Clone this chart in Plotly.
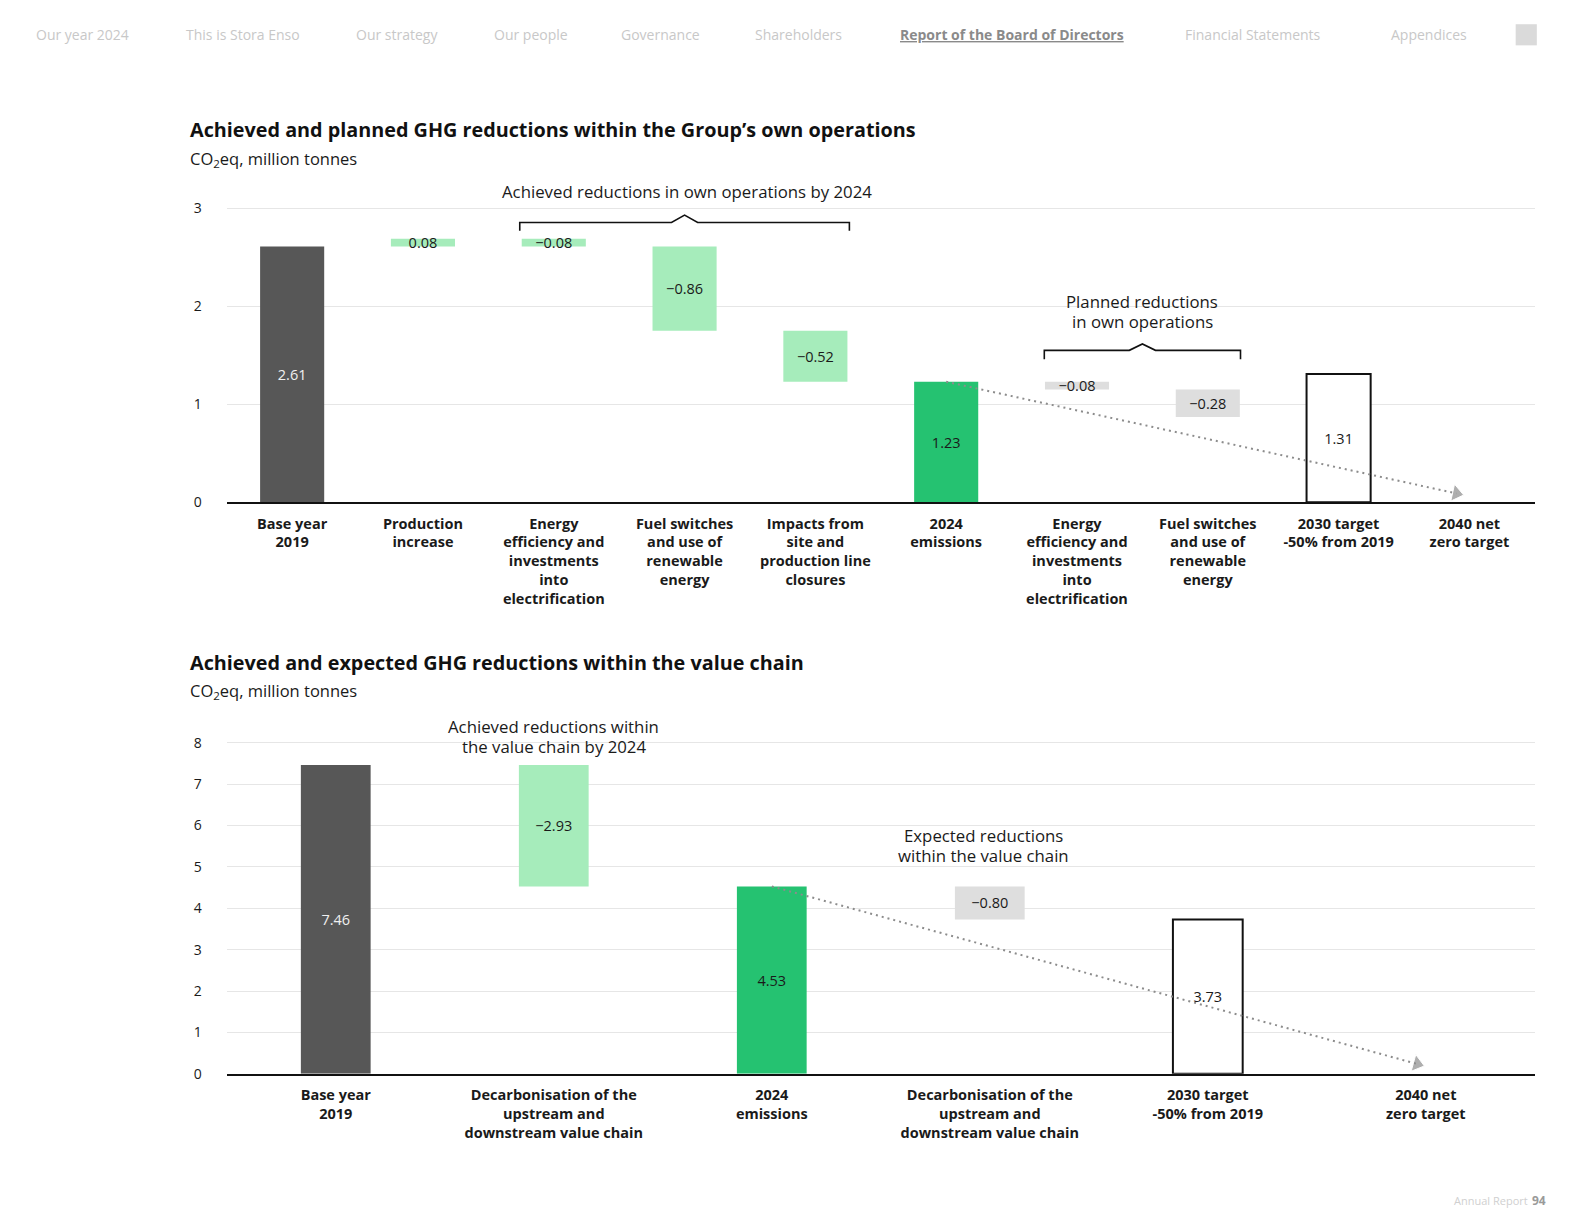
import plotly.graph_objects as go

# ---------------- data ----------------
top_categories = [
    "Base year<br>2019",
    "Production<br>increase",
    "Energy<br>efficiency and<br>investments<br>into<br>electrification",
    "Fuel switches<br>and use of<br>renewable<br>energy",
    "Impacts from<br>site and<br>production line<br>closures",
    "2024<br>emissions",
    "Energy<br>efficiency and<br>investments<br>into<br>electrification",
    "Fuel switches<br>and use of<br>renewable<br>energy",
    "2030 target<br>-50% from 2019",
    "2040 net<br>zero target",
]
top_values = [2.61, 0.08, -0.08, -0.86, -0.52, 1.23, -0.08, -0.28, 1.31, None]
top_kinds = ["base", "achieved", "achieved", "achieved", "achieved",
             "current", "planned", "planned", "target", "netzero"]

bottom_categories = [
    "Base year<br>2019",
    "Decarbonisation of the<br>upstream and<br>downstream value chain",
    "2024<br>emissions",
    "Decarbonisation of the<br>upstream and<br>downstream value chain",
    "2030 target<br>-50% from 2019",
    "2040 net<br>zero target",
]
bottom_values = [7.46, -2.93, 4.53, -0.80, 3.73, None]
bottom_kinds = ["base", "achieved", "current", "planned", "target", "netzero"]

top_yticks = [0, 1, 2, 3]
bottom_yticks = [0, 1, 2, 3, 4, 5, 6, 7, 8]

nav_items = ["Our year 2024", "This is Stora Enso", "Our strategy", "Our people",
             "Governance", "Shareholders", "Report of the Board of Directors",
             "Financial Statements", "Appendices"]

# ---------------- styles ----------------
OFF = 8                      # page body margin
W, H = 1580 - 2 * OFF, 1232 - 2 * OFF
SX, SY = 0.9923, 0.9863      # observed photo scaling
FONT = "Open Sans"
TXT = "#1a1a1a"
fill_by_kind = {"base": "#575757", "achieved": "#a6ecbb", "current": "#25c271",
                "planned": "#dedede", "target": "#ffffff", "netzero": "rgba(0,0,0,0)"}
label_col_by_kind = {"base": "#f0f0f0"}
TOP_PX_PER_UNIT = 97.33
BOT_PX_PER_UNIT = 41.125
TOP_YMAX = 3.3
BOT_YMAX = 8.7


def px_x(p):
    return (p / SX - OFF) / W


def px_y(p):
    return 1 - (p / SY - OFF) / H


def waterfall(values, kinds):
    bases, ys = [], []
    running = 0.0
    for v, k in zip(values, kinds):
        if v is None:
            bases.append(0)
            ys.append(None)
        elif k in ("base", "current", "target"):
            bases.append(0)
            ys.append(v)
            running = v
        else:
            bases.append(running)
            ys.append(v)
            running = running + v
    return bases, ys


fig = go.Figure()


def fmt(v):
    if v is None:
        return None
    s = f"{v:.2f}"
    return s.replace("-", "\u2212")


def add_chart(values, kinds, xa, ya, bar_w):
    bases, ys = waterfall(values, kinds)
    xs = list(range(len(values)))
    fig.add_trace(go.Bar(
        x=xs, y=ys, base=bases, width=bar_w,
        marker=dict(color=[fill_by_kind[k] for k in kinds],
                    line=dict(color=["#111111" if k == "target" else "rgba(0,0,0,0)" for k in kinds],
                              width=[2 if k == "target" else 0 for k in kinds])),
        text=[fmt(v) for v in values],
        textposition="inside", insidetextanchor="middle", constraintext="none", textangle=0,
        insidetextfont=dict(family=FONT, size=14.5, color=[label_col_by_kind.get(k, TXT) for k in kinds]),
        xaxis=xa, yaxis=ya, showlegend=False, hoverinfo="skip", cliponaxis=False,
    ))


add_chart(top_values, top_kinds, "x", "y", 0.49)
add_chart(bottom_values, bottom_kinds, "x2", "y2", 0.32)


# dotted trajectory arrows: from 2024 emissions to 2040 net zero
def add_arrow(values, kinds, xa, ya, dx, dy):
    i0 = kinds.index("current")
    i1 = kinds.index("netzero")
    fig.add_trace(go.Scatter(
        x=[i0, i1 - dx], y=[values[i0], dy], mode="lines+markers",
        line=dict(color="#8c8c8c", width=2, dash="2px,4px"),
        marker=dict(symbol="triangle-up", size=[0, 15], color="#8c8c8c", angleref="previous"),
        xaxis=xa, yaxis=ya, showlegend=False, hoverinfo="skip", cliponaxis=False,
    ))


add_arrow(top_values, top_kinds, "x", "y", 0.1, 0.09)
add_arrow(bottom_values, bottom_kinds, "x2", "y2", 0.04, 0.24)

# ---------------- axes ----------------
xdom = [px_x(225), px_x(1523)]
axis_font = dict(family=FONT, size=14, color=TXT)
cat_font = dict(family=FONT, size=14.5, color=TXT)
fig.update_layout(
    width=W, height=H, margin=dict(l=0, r=0, t=0, b=0),
    paper_bgcolor="white", plot_bgcolor="white", barmode="overlay",
    font=dict(family=FONT, color=TXT),
    xaxis=dict(domain=xdom, range=[-0.5, 9.5], tickvals=list(range(len(top_categories))),
               ticktext=[f"<b>{c}</b>" for c in top_categories], tickfont=cat_font,
               showgrid=False, zeroline=False, showline=True, linecolor="#111111", linewidth=2,
               ticks="", ticklabelstandoff=7, anchor="y"),
    yaxis=dict(domain=[px_y(499), px_y(499 - TOP_YMAX * TOP_PX_PER_UNIT)], range=[0, TOP_YMAX],
               tickvals=top_yticks, tickfont=axis_font, showgrid=True, gridcolor="#e6e6e6",
               gridwidth=1, zeroline=False, showline=False, ticks="", ticklabelstandoff=24,
               anchor="x"),
    xaxis2=dict(domain=xdom, range=[-0.5, 5.5], tickvals=list(range(len(bottom_categories))),
                ticktext=[f"<b>{c}</b>" for c in bottom_categories], tickfont=cat_font,
                showgrid=False, zeroline=False, showline=True, linecolor="#111111", linewidth=2,
                ticks="", ticklabelstandoff=7, anchor="y2"),
    yaxis2=dict(domain=[px_y(1067), px_y(1067 - BOT_YMAX * BOT_PX_PER_UNIT)], range=[0, BOT_YMAX],
                tickvals=bottom_yticks, tickfont=axis_font, showgrid=True, gridcolor="#e6e6e6",
                gridwidth=1, zeroline=False, showline=False, ticks="", ticklabelstandoff=24,
                anchor="x2"),
)

annotations = []
shapes = []

# titles
for y_title, y_sub, title in [(129, 158, "Achieved and planned GHG reductions within the Group\u2019s own operations"),
                              (658, 687, "Achieved and expected GHG reductions within the value chain")]:
    annotations.append(dict(text=f"<b>{title}</b>", x=px_x(187), y=px_y(y_title), xref="paper", yref="paper",
                            xanchor="left", yanchor="middle", showarrow=False,
                            font=dict(family=FONT, size=19.8, color="#111111")))
    annotations.append(dict(text="CO<sub>2</sub>eq, million tonnes", x=px_x(187), y=px_y(y_sub), xref="paper",
                            yref="paper", xanchor="left", yanchor="middle", showarrow=False,
                            font=dict(family=FONT, size=16.5, color=TXT)))

# group labels (one annotation per line, 19.5px line pitch)
group_notes = [
    ("x", "y", 3.02, 3.175, ["Achieved reductions in own operations by 2024"], TOP_PX_PER_UNIT),
    ("x", "y", 6.5, 1.95, ["Planned reductions", "in own operations"], TOP_PX_PER_UNIT),
    ("x2", "y2", 1.0, 8.15, ["Achieved reductions within", "the value chain by 2024"], BOT_PX_PER_UNIT),
    ("x2", "y2", 2.97, 5.52, ["Expected reductions", "within the value chain"], BOT_PX_PER_UNIT),
]
for xa, ya, x, y, lines, ppu in group_notes:
    pitch = 19.5 / ppu
    n = len(lines)
    for j, t in enumerate(lines):
        yy = y + ((n - 1) / 2 - j) * pitch
        annotations.append(dict(text=t, x=x, y=yy, xref=xa, yref=ya, showarrow=False,
                                xanchor="center", yanchor="middle",
                                font=dict(family=FONT, size=16.8, color=TXT)))


# braces over grouped bars (top chart)
def brace(i0, i1, y_line, half_w, tick, peak):
    x0 = i0 - half_w
    x1 = i1 + half_w
    xm = (x0 + x1) / 2
    d = 0.1
    path = (f"M {x0},{y_line - tick} L {x0},{y_line} L {xm - d},{y_line} L {xm},{y_line + peak} "
            f"L {xm + d},{y_line} L {x1},{y_line} L {x1},{y_line - tick}")
    shapes.append(dict(type="path", path=path, xref="x", yref="y",
                       line=dict(color="#111111", width=1.6)))


brace(2, 4, 2.856, 0.26, 0.085, 0.075)
brace(6, 7, 1.551, 0.25, 0.09, 0.065)

# page navigation (blurred in reference)
nav_x = [82, 241, 394, 527, 655, 792, 1004, 1243, 1418]
for t, x in zip(nav_items, nav_x):
    active = "Report" in t
    annotations.append(dict(text=(f"<b><u>{t}</u></b>" if active else t), x=px_x(x), y=px_y(34),
                            xref="paper", yref="paper", showarrow=False, xanchor="center", yanchor="middle",
                            font=dict(family=FONT, size=14, color="#8a8a8a" if active else "#c8c8c8")))
shapes.append(dict(type="rect", x0=px_x(1504), x1=px_x(1525), y0=px_y(45), y1=px_y(24),
                   xref="paper", yref="paper", line=dict(width=0), fillcolor="#dadada"))
annotations.append(dict(text="Annual Report", x=px_x(1480), y=px_y(1193), xref="paper", yref="paper",
                        showarrow=False, xanchor="center", yanchor="middle",
                        font=dict(family=FONT, size=11, color="#d0d0d0")))
annotations.append(dict(text="<b>94</b>", x=px_x(1527), y=px_y(1193), xref="paper", yref="paper",
                        showarrow=False, xanchor="center", yanchor="middle",
                        font=dict(family=FONT, size=12, color="#9a9a9a")))

fig.update_layout(annotations=annotations, shapes=shapes)
fig.write_html("out.html")
